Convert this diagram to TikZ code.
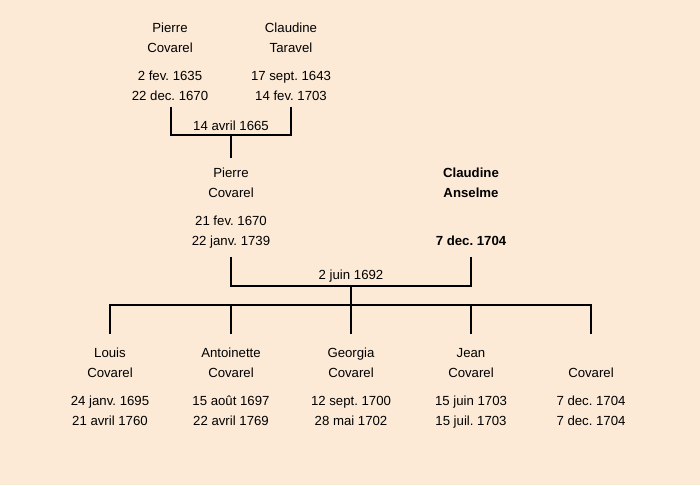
\documentclass[tikz,border=0pt]{standalone}
\usepackage{fontspec}
\setmainfont{Liberation Sans}
\definecolor{bg}{RGB}{252,234,214}
\begin{document}
\frenchspacing
\begin{tikzpicture}[x=1pt,y=-1pt,
  person/.style={align=center,inner sep=0pt,font=\fontsize{13.2}{20}\selectfont},
  link/.style={line width=2pt,line cap=rect},
  datelabel/.style={inner sep=0pt,font=\fontsize{13.2}{15}\selectfont}]
\fill[bg] (0,0) rectangle (700,485);
\useasboundingbox (0,0) rectangle (700,485);
% generation 1
\node[person] (p1) at (170,62) {\strut Pierre\\Covarel\\[8pt]2 fev. 1635\\22 dec. 1670\strut};
\node[person] (c1) at (291,62) {\strut Claudine\\Taravel\\[8pt]17 sept. 1643\\14 fev. 1703\strut};
\coordinate (a1) at (171,108);
\coordinate (a2) at (291,108);
\coordinate (a3) at (171,135);
\coordinate (a4) at (291,135);
\coordinate (a5) at (231,135);
\coordinate (a6) at (231,157);
\draw[link] (a1) -- (a3) -- (a4) -- (a2);
\draw[link] (a5) -- (a6);
\node[datelabel] (m1) at (231,126) {14 avril 1665};
% generation 2
\node[person] (p2) at (231,207) {\strut Pierre\\Covarel\\[8pt]21 fev. 1670\\22 janv. 1739\strut};
\node[person,font=\fontsize{13.2}{20}\selectfont\bfseries] (c2) at (471,207) {\strut Claudine\\Anselme\\[8pt]\strut\\7 dec. 1704\strut};
\coordinate (b1) at (231,258);
\coordinate (b2) at (471,258);
\coordinate (b3) at (231,286);
\coordinate (b4) at (471,286);
\coordinate (b5) at (351,286);
\coordinate (b6) at (351,305);
\draw[link] (b1) -- (b3) -- (b4) -- (b2);
\draw[link] (b5) -- (b6);
\node[datelabel] (m2) at (351,276) {2 juin 1692};
% children bar
\coordinate (h1) at (110,305);
\coordinate (h5) at (591,305);
\draw[link] (h1) -- (h5);
\foreach \x/\n in {110/k1,231/k2,351/k3,471/k4,591/k5}{
  \coordinate (t\n) at (\x,305);
  \coordinate (d\n) at (\x,333);
  \draw[link] (t\n) -- (d\n);
}
% children
\node[person] (k1) at (110,387) {\strut Louis\\Covarel\\[8pt]24 janv. 1695\\21 avril 1760\strut};
\node[person] (k2) at (231,387) {\strut Antoinette\\Covarel\\[8pt]15 août 1697\\22 avril 1769\strut};
\node[person] (k3) at (351,387) {\strut Georgia\\Covarel\\[8pt]12 sept. 1700\\28 mai 1702\strut};
\node[person] (k4) at (471,387) {\strut Jean\\Covarel\\[8pt]15 juin 1703\\15 juil. 1703\strut};
\node[person] (k5) at (591,387) {\strut\\Covarel\\[8pt]7 dec. 1704\\7 dec. 1704\strut};
\end{tikzpicture}
\end{document}
